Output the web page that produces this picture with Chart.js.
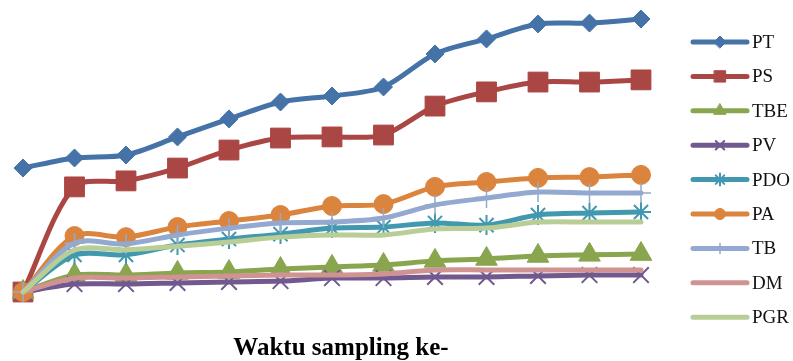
<!DOCTYPE html>
<html>
<head>
<meta charset="utf-8">
<script src="https://cdn.jsdelivr.net/npm/chart.js@4/dist/chart.umd.min.js"></script>
<style>
  html, body { margin: 0; padding: 0; background: #ffffff; }
  #wrap { width: 793px; height: 361px; position: relative; }
</style>
</head>
<body>
<div id="wrap"><canvas id="c" width="793" height="361"></canvas></div>
<script>
// Sampling rounds (x categories)
const samplingRounds = ['1', '2', '3', '4', '5', '6', '7', '8', '9', '10', '11', '12', '13'];

// Series values per sampling round
const PT  = [45.4, 49.1, 50.2, 56.8, 63.4, 69.6, 71.8, 75.1, 87.2, 92.7, 98.2, 98.5, 100.0];
const PS  = [0, 38.5, 40.7, 45.4, 52.0, 56.4, 56.8, 57.5, 68.1, 73.3, 76.9, 76.9, 77.7];
const TBE = [0, 6.2, 6.2, 7.0, 7.3, 8.4, 9.2, 9.9, 11.4, 12.1, 13.2, 13.6, 13.9];
const PV  = [0, 2.9, 2.9, 3.3, 3.7, 4.0, 5.1, 5.1, 5.5, 5.5, 5.9, 6.2, 6.2];
const PDO = [0, 13.6, 13.6, 17.2, 19.4, 21.2, 23.4, 23.8, 25.3, 24.5, 28.2, 28.9, 29.3];
const PA  = [0, 20.5, 20.1, 23.8, 26.0, 28.2, 31.5, 32.2, 38.5, 40.3, 41.8, 42.1, 42.9];
const TB  = [0, 17.9, 17.6, 20.9, 23.4, 25.3, 25.6, 27.1, 31.9, 34.4, 36.6, 36.3, 36.3];
const DM  = [0, 5.1, 5.1, 5.5, 5.9, 6.2, 6.2, 6.6, 8.1, 8.1, 8.1, 8.1, 8.1];
const PGR = [0, 15.4, 15.4, 16.8, 18.3, 20.1, 20.9, 20.9, 23.1, 23.4, 25.6, 25.6, 25.6];

const seriesNames = ['PT', 'PS', 'TBE', 'PV', 'PDO', 'PA', 'TB', 'DM', 'PGR'];
const seriesValues = [PT, PS, TBE, PV, PDO, PA, TB, DM, PGR];

// Look of each series: colour, marker shape, marker size on the plot and in the key
const seriesStyles = [
  { color: '#4572A7', marker: 'rectRot',  radius: 9,  keyRadius: 6,   bw: 1 },
  { color: '#AA4643', marker: 'rect',     radius: 14, keyRadius: 8,   bw: 1 },
  { color: '#89A54E', marker: 'triangle', radius: 12.5, keyRadius: 7, bw: 1 },
  { color: '#71588F', marker: 'crossRot', radius: 11, keyRadius: 6,   bw: 2 },
  { color: '#4198AF', marker: 'star',     radius: 10, keyRadius: 6,   bw: 2 },
  { color: '#DB843D', marker: 'circle',   radius: 9.5,keyRadius: 5.5, bw: 1 },
  { color: '#93A9CF', marker: 'cross',    radius: 10, keyRadius: 5,   bw: 1.5 },
  { color: '#D19392', marker: 'circle',   radius: 0,  keyRadius: 0,   bw: 0 },
  { color: '#B9CD96', marker: 'circle',   radius: 0,  keyRadius: 0,   bw: 0 }
];

const datasets = seriesNames.map((name, i) => {
  const s = seriesStyles[i];
  return {
    label: name,
    data: seriesValues[i],
    borderColor: s.color,
    backgroundColor: s.color,
    borderWidth: 5,
    borderCapStyle: 'round',
    borderJoinStyle: 'round',
    tension: 0.3,
    pointStyle: s.marker,
    pointRadius: s.radius,
    pointHoverRadius: s.radius,
    pointBackgroundColor: s.color,
    pointBorderColor: s.color,
    pointBorderWidth: s.bw,
    clip: false,
    // later series are painted over earlier ones
    order: seriesNames.length - i
  };
});

// Key on the right: a short line with the series marker and its name
const sideKey = {
  id: 'sideKey',
  afterDraw(chart) {
    const ctx = chart.ctx;
    const area = chart.chartArea;
    const x0 = area.right + 52;
    const x1 = x0 + 54;
    const xm = (x0 + x1) / 2;
    const rowTop = area.top + 23;
    const rowStep = 34.4;
    datasets.forEach((ds, i) => {
      const s = seriesStyles[i];
      const y = rowTop + i * rowStep;
      ctx.save();
      ctx.strokeStyle = s.color;
      ctx.lineWidth = 5;
      ctx.lineCap = 'round';
      ctx.beginPath();
      ctx.moveTo(x0, y);
      ctx.lineTo(x1, y);
      ctx.stroke();
      if (s.keyRadius > 0) {
        ctx.fillStyle = s.color;
        ctx.strokeStyle = s.color;
        ctx.lineWidth = s.bw;
        Chart.helpers.drawPoint(ctx, {
          pointStyle: s.marker, rotation: 0, radius: s.keyRadius, borderWidth: s.bw
        }, xm, y);
      }
      ctx.fillStyle = '#111111';
      ctx.font = '19px "Liberation Serif", "Times New Roman", serif';
      ctx.textAlign = 'left';
      ctx.textBaseline = 'middle';
      ctx.fillText(ds.label, x1 + 5, y + 1);
      ctx.restore();
    });
  }
};

// Axis caption under the plot
const caption = {
  id: 'caption',
  afterDraw(chart) {
    const ctx = chart.ctx;
    const area = chart.chartArea;
    ctx.save();
    ctx.fillStyle = '#000000';
    ctx.font = 'bold 25px "Liberation Serif", "Times New Roman", serif';
    ctx.textAlign = 'center';
    ctx.textBaseline = 'alphabetic';
    ctx.fillText('Waktu sampling ke-', (area.left + area.right) / 2 + 9, area.bottom + 63);
    ctx.restore();
  }
};

new Chart(document.getElementById('c'), {
  type: 'line',
  data: { labels: samplingRounds, datasets: datasets },
  options: {
    responsive: false,
    animation: false,
    layout: { padding: { left: 23, right: 152, top: 19, bottom: 69 } },
    scales: {
      x: { display: false, offset: false },
      y: { display: false, min: 0, max: 100 }
    },
    plugins: {
      legend: { display: false },
      tooltip: { enabled: false },
      title: { display: false }
    }
  },
  plugins: [sideKey, caption]
});
</script>
</body>
</html>
